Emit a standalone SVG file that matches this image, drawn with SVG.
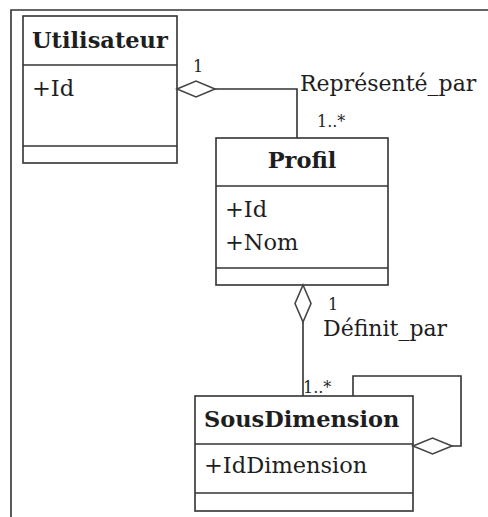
<svg xmlns="http://www.w3.org/2000/svg" width="488" height="517" viewBox="0 0 488 517">
<style>
.box{fill:#fff;stroke:#333;stroke-width:1.6}
.ln{fill:none;stroke:#333;stroke-width:1.6}
.dia{fill:#fff;stroke:#444;stroke-width:1.6}
.t{font-family:"DejaVu Serif","Liberation Serif",serif;fill:#1e1e1e}
.h{font-size:22.5px;font-weight:bold}
.a{font-size:22.5px}
.m{font-size:16px}
.l{font-size:22px}
</style>
<rect x="0" y="0" width="488" height="517" fill="#fff"/>
<path class="ln" d="M11,517 V10 H488" stroke-width="2"/>
<g id="Utilisateur">
<rect class="box" x="23" y="16" width="154" height="147"/>
<line class="ln" x1="23" y1="65" x2="177" y2="65"/>
<line class="ln" x1="23" y1="146" x2="177" y2="146"/>
<text class="t h" x="32" y="48">Utilisateur</text>
<text class="t a" x="32" y="96">+Id</text>
</g>
<g id="Profil">
<rect class="box" x="216" y="138" width="172" height="147"/>
<line class="ln" x1="216" y1="186" x2="388" y2="186"/>
<line class="ln" x1="216" y1="268" x2="388" y2="268"/>
<text class="t h" x="302" y="168" text-anchor="middle">Profil</text>
<text class="t a" x="225" y="217">+Id</text>
<text class="t a" x="225" y="250">+Nom</text>
</g>
<g id="SousDimension">
<rect class="box" x="195" y="396" width="218" height="115"/>
<line class="ln" x1="195" y1="444" x2="413" y2="444"/>
<line class="ln" x1="195" y1="493" x2="413" y2="493"/>
<text class="t h" x="204" y="427">SousDimension</text>
<text class="t a" x="204" y="473">+IdDimension</text>
</g>
<g id="connectors">
<path class="ln" d="M215,89 H297 V138"/>
<path class="dia" d="M177,89 L196,81 L215,89 L196,97 Z"/>
<text class="t m" x="193" y="72">1</text>
<text class="t l" x="300" y="91">Représenté_par</text>
<text class="t m" x="317" y="127">1..*</text>
<path class="ln" d="M303,322 V396"/>
<path class="dia" d="M303,285 L311,303.5 L303,322 L295,303.5 Z"/>
<text class="t m" x="328" y="310">1</text>
<text class="t l" x="323" y="336">Définit_par</text>
<text class="t m" x="303" y="393">1..*</text>
<path class="ln" d="M353,396 V376 H461 V446 H452"/>
<path class="dia" d="M413,446 L432.5,438 L452,446 L432.5,454 Z"/>
</g>
</svg>
